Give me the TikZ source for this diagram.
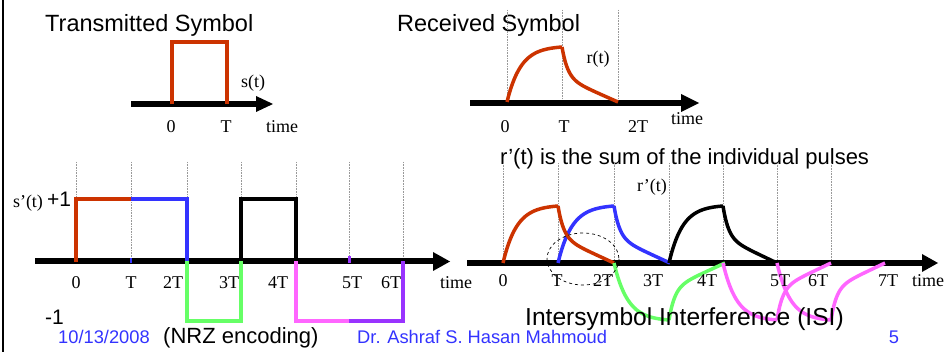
\documentclass[tikz,border=0pt]{standalone}
\usepackage{fontspec}
\setmainfont{Liberation Serif}
\newfontfamily\sansfnt{Liberation Sans}
\definecolor{pred}{HTML}{CC3300}
\definecolor{pblue}{HTML}{3333FF}
\definecolor{pgreen}{HTML}{66FF66}
\definecolor{pmag}{HTML}{FF66FF}
\definecolor{ppurple}{HTML}{9933FF}
\definecolor{footblue}{HTML}{3333FF}
\tikzset{
  axisline/.style={line width=5.5pt},
  guide/.style={densely dotted, gray!80, line width=0.6pt},
  pulse/.style={line width=3.3pt, line join=miter},
  curve/.style={line width=3.5pt},
  bigtitle/.style={font=\sansfnt\fontsize{23.5}{28}\selectfont, anchor=base west, inner sep=0pt},
  midtitle/.style={font=\sansfnt\fontsize{22}{26}\selectfont, anchor=base west, inner sep=0pt},
  foot/.style={font=\sansfnt\fontsize{18.3}{22}\selectfont, anchor=base west, inner sep=0pt, text=footblue},
  lab/.style={font=\fontsize{18}{21}\selectfont, anchor=base, inner sep=0pt},
}
% rising part: color, x0, width, ystart, yend
\newcommand\riseto[5]{%
  \draw[curve,#1] plot[domain=0:1,samples=40,smooth] ({#2+#3*\x},{#4+(#5-#4)*(1-exp(-4*\x))/(1-exp(-4))});}
% decaying part: color, x0, width, ystart, yend
\newcommand\decayto[5]{%
  \draw[curve,#1] plot[domain=0:1,samples=50,smooth] ({#2+#3*\x},{#4+(#5-#4)*(0.55*(1-exp(-10*\x))+0.45*\x)});}
\begin{document}
\begin{tikzpicture}[x=1pt,y=-1pt]
\useasboundingbox (0,0) rectangle (947,352);
\fill[white] (0,0) rectangle (947,352);
% left border
\draw[line width=2pt] (2.5,0) -- (2.5,352);

% ---------- Transmitted symbol ----------
\node[bigtitle] (t1) at (45,31.5) {Transmitted Symbol};
\draw[axisline] (131,104) -- (258,104);
\fill (256,96) -- (273,104) -- (256,112) -- cycle;
\draw[pulse,pred] (172,104) -- (172,42) -- (227,42) -- (227,104);
\node[lab, anchor=center] (st) at (253,83) {s(t)};
\node[lab] (a0) at (171,133) {0};
\node[lab] (aT) at (226,133) {T};
\node[lab] (atime) at (282,133) {time};

% ---------- Received symbol ----------
\node[bigtitle] (t2) at (397,31.5) {Received Symbol};
\foreach \xx in {507,562,618} \draw[guide] (\xx,10) -- (\xx,103);
\draw[axisline] (470,103) -- (683,103);
\fill (681,94) -- (699,103) -- (681,112) -- cycle;
\riseto{pred}{507}{55}{102}{47}
\decayto{pred}{562}{56}{47}{102}
\node[lab] (rt) at (598,63.5) {r(t)};
\node[lab] (b0) at (505,133) {0};
\node[lab] (bT) at (564,133) {T};
\node[lab] (b2T) at (638,133) {2T};
\node[lab] (btime) at (687,125) {time};

% ---------- NRZ ----------
\foreach \xx in {76,131,187,241,296,349,403} \draw[guide] (\xx,162) -- (\xx,261);
\draw[axisline] (35,261) -- (435,261);
\fill (433,252) -- (450,261.5) -- (433,271) -- cycle;
\draw[pulse,pred] (76,262) -- (76,199) -- (131,199);
\draw[pulse,pblue] (131,199) -- (187,199) -- (187,261);
\draw[line width=2pt,pblue] (131,258) -- (131,263);
\draw[pulse,pgreen] (187,261) -- (187,321) -- (241,321) -- (241,261);
\draw[pulse,black] (241,261) -- (241,199) -- (296,199) -- (296,261);
\draw[pulse,pmag] (296,261) -- (296,321) -- (349,321);
\draw[pulse,ppurple] (349,321) -- (403,321) -- (403,261);
\draw[line width=3pt,ppurple] (349,256) -- (349,263);
\node[lab] (sp) at (28,208) {s’(t)};
\node[midtitle, font=\sansfnt\fontsize{21}{25}\selectfont] (p1) at (47,206.5) {+1};
\node[midtitle, font=\sansfnt\fontsize{21}{25}\selectfont] (m1) at (45,325) {-1};
\node[lab] (c0) at (76,289) {0};
\node[lab] (cT) at (131,289) {T};
\node[lab] (c2T) at (173,289) {2T};
\node[lab] (c3T) at (229,289) {3T};
\node[lab] (c4T) at (278,289) {4T};
\node[lab] (c5T) at (352,289) {5T};
\node[lab] (c6T) at (391,289) {6T};
\node[lab] (ctime) at (456,289) {time};

% ---------- ISI ----------
\node[midtitle] (t3) at (500,165) {r’(t) is the sum of the individual pulses};
\foreach \xx in {503,558,614,669,723,777,831} \draw[guide] (\xx,163) -- (\xx,263);
\draw[axisline] (467,263) -- (924,263);
\fill (922,254) -- (938,263) -- (922,272) -- cycle;
\riseto{pblue}{558}{56}{263}{206}
\decayto{pblue}{614}{56}{206}{263}
\riseto{pred}{503}{55}{263}{206}
\decayto{pred}{558}{56}{206}{263}
\riseto{black}{669}{54}{263}{206}
\decayto{black}{723}{54}{206}{263}
\riseto{pgreen}{614}{55}{263}{320}
\decayto{pgreen}{669}{56}{320}{263}
\riseto{pmag}{723}{54}{263}{320}
\decayto{pmag}{777}{54}{320}{263}
\riseto{pmag}{777}{54}{263}{320}
\decayto{pmag}{831}{54}{320}{263}
\draw[dashed, line width=0.7pt] (583,259) ellipse [x radius=36, y radius=26];
\node[lab] (rp) at (652,192) {r’(t)};
\node[lab] (d0) at (503,287) {0};
\node[lab] (dT) at (557,287) {T};
\node[lab] (d2T) at (603,287) {2T};
\node[lab] (d3T) at (653,287) {3T};
\node[lab] (d4T) at (707,287) {4T};
\node[lab] (d5T) at (780,287) {5T};
\node[lab] (d6T) at (818,287) {6T};
\node[lab] (d7T) at (888,287) {7T};
\node[lab] (dtime) at (928,287) {time};
\node[bigtitle, font=\sansfnt\fontsize{24.6}{29}\selectfont] (t4) at (525,326) {Intersymbol Interference (ISI)};

% ---------- footer ----------
\node[foot] (date) at (58,343) {10/13/2008};
\node[midtitle] (nrz) at (163,343) {(NRZ encoding)};
\node[foot] (auth) at (357,343) {Dr. Ashraf S. Hasan Mahmoud};
\node[foot, anchor=base] (pg) at (894,343) {5};
\end{tikzpicture}
\end{document}
